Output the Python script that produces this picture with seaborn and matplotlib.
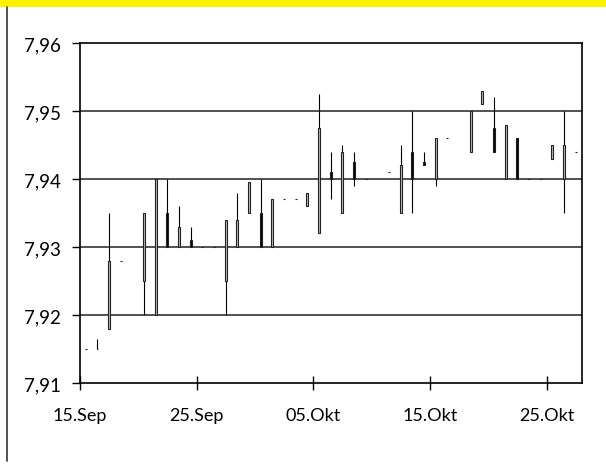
import matplotlib
matplotlib.use("Agg")
import matplotlib.pyplot as plt
import matplotlib.dates as mdates
from matplotlib.lines import Line2D
from matplotlib.patches import Rectangle
import numpy as np
import pandas as pd
import seaborn as sns

# daily quotes (missing days simply have no entry)
dates = ["09-15", "09-16", "09-17", "09-18", "09-20", "09-21", "09-22", "09-23",
         "09-24", "09-25", "09-26", "09-27", "09-28", "09-29", "09-30", "10-01",
         "10-02", "10-03", "10-04", "10-05", "10-06", "10-07", "10-08", "10-09",
         "10-11", "10-12", "10-13", "10-14", "10-15", "10-16", "10-18", "10-19",
         "10-20", "10-21", "10-22", "10-23", "10-24", "10-25", "10-26", "10-27"]
open_ = [7.915, 7.915, 7.918, 7.928, 7.925, 7.920, 7.935, 7.930, 7.931, 7.930,
         7.930, 7.925, 7.930, 7.935, 7.935, 7.930, 7.937, 7.937, 7.936, 7.932,
         7.941, 7.935, 7.9425, 7.940, 7.941, 7.935, 7.944, 7.9425, 7.940, 7.946,
         7.944, 7.951, 7.9475, 7.940, 7.946, 7.940, 7.940, 7.943, 7.940, 7.944]
high = [7.915, 7.9165, 7.935, 7.928, 7.935, 7.940, 7.940, 7.936, 7.933, 7.930,
        7.930, 7.934, 7.938, 7.9395, 7.940, 7.937, 7.937, 7.937, 7.938, 7.9525,
        7.944, 7.945, 7.944, 7.940, 7.941, 7.945, 7.950, 7.944, 7.946, 7.946,
        7.950, 7.953, 7.952, 7.948, 7.946, 7.940, 7.940, 7.945, 7.950, 7.944]
low = [7.915, 7.915, 7.918, 7.928, 7.920, 7.920, 7.930, 7.930, 7.930, 7.930,
       7.930, 7.920, 7.930, 7.935, 7.930, 7.930, 7.937, 7.937, 7.936, 7.932,
       7.937, 7.935, 7.939, 7.940, 7.941, 7.935, 7.935, 7.942, 7.939, 7.946,
       7.944, 7.951, 7.944, 7.940, 7.940, 7.940, 7.940, 7.943, 7.935, 7.944]
close = [7.915, 7.915, 7.928, 7.928, 7.935, 7.940, 7.930, 7.933, 7.930, 7.930,
         7.930, 7.934, 7.934, 7.9395, 7.930, 7.937, 7.937, 7.937, 7.938, 7.9475,
         7.940, 7.944, 7.940, 7.940, 7.941, 7.942, 7.940, 7.942, 7.946, 7.946,
         7.950, 7.953, 7.944, 7.948, 7.940, 7.940, 7.940, 7.945, 7.945, 7.944]

tick_dates = ["09-15", "09-25", "10-05", "10-15", "10-25"]
tick_labels = ["15.Sep", "25.Sep", "05.Okt", "15.Okt", "25.Okt"]
y_ticks = [7.91, 7.92, 7.93, 7.94, 7.95, 7.96]
y_labels = ["7,91", "7,92", "7,93", "7,94", "7,95", "7,96"]

YEAR = "2000-"
df = pd.DataFrame({"date": pd.to_datetime([YEAR + d for d in dates]),
                   "open": open_, "high": high, "low": low, "close": close})
df["x"] = mdates.date2num(df["date"]) + 0.5  # centre of the day slot
df["up"] = df["close"] >= df["open"]

sns.set_theme(style="white")
plt.rcParams["font.family"] = ["Lato", "DejaVu Sans"]

fig = plt.figure(figsize=(6.06, 4.77), dpi=100)
ax = fig.add_axes([80 / 606, 1 - 384 / 477, 501.5 / 606, 340 / 477])

# yellow band and left frame line
fig.add_artist(Rectangle((0, 1 - 7.5 / 477), 1, 7.5 / 477, transform=fig.transFigure,
                         facecolor="#fff200", edgecolor="none"))
fig.add_artist(Line2D([6.5 / 606, 6.5 / 606], [1 - 8 / 477, 1 - 462 / 477],
                      transform=fig.transFigure, color="#333333", lw=1.2))

for yv in y_ticks[1:-1]:
    ax.axhline(yv, color="#222222", lw=1.1, zorder=1)

# high-low wicks
ax.vlines(df["x"], df["low"], df["high"], color="black", lw=0.8, zorder=2)

# open-close bodies
bottom = np.minimum(df["open"], df["close"])
height = np.abs(df["close"] - df["open"])
face = np.where(df["up"], "#bbbbbb", "black")
ax.bar(df["x"], height, bottom=bottom, width=0.17, color=face,
       edgecolor="#222222", linewidth=0.8, zorder=3)

start = mdates.date2num(pd.Timestamp(YEAR + "09-15"))
ax.set_xlim(start, start + 43)
ax.set_ylim(7.91, 7.96)
ax.set_xticks(mdates.date2num(pd.to_datetime([YEAR + d for d in tick_dates])))
ax.set_xticklabels(tick_labels)
ax.set_yticks(y_ticks)
ax.set_yticklabels(y_labels)

for s in ax.spines.values():
    s.set_color("black")
    s.set_linewidth(1.2)
ax.tick_params(axis="x", direction="inout", length=10, width=1, color="black",
               labelsize=13, labelcolor="black", pad=12, bottom=True)
ax.tick_params(axis="y", direction="out", length=6, width=1, color="black",
               labelsize=13.5, labelcolor="black", pad=8, left=True)
ax.grid(False)

fig.savefig("out.png", dpi=100)
